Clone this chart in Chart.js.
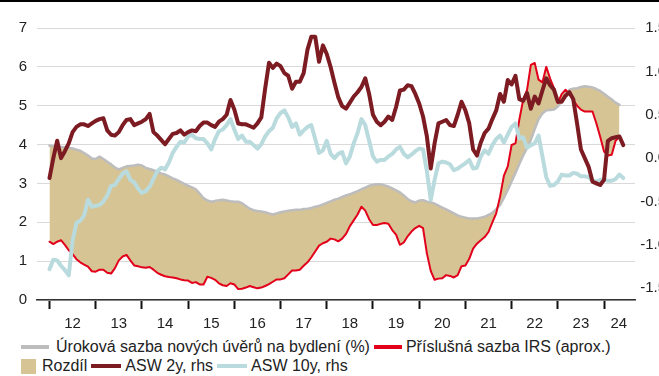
<!DOCTYPE html>
<html>
<head>
<meta charset="utf-8">
<script src="https://cdn.jsdelivr.net/npm/chart.js@4.4.1/dist/chart.umd.min.js"></script>
<style>
  html, body { margin: 0; padding: 0; background: #fff; overflow: hidden; }
  body { width: 659px; height: 376px; position: relative; font-family: "Liberation Sans", Arial, sans-serif; }
  #topline { position: absolute; left: 0; top: 0; width: 659px; height: 2px; background: #000; }
  #wrap { position: absolute; left: 0; top: 0; width: 666px; height: 336px; }
  .legend-row { position: absolute; left: 21px; display: flex; align-items: center; height: 18px;
                font-size: 16px; line-height: 18px; color: #222; white-space: nowrap; }
  .mk { display: inline-block; flex: none; }
</style>
</head>
<body>
<div id="wrap"><canvas id="chart" width="666" height="336"></canvas></div>
<div id="topline"></div>
<div class="legend-row" id="row1" style="top:338px"></div>
<div class="legend-row" id="row2" style="top:357px"></div>

<script>
// monthly series, first value = Jan 2012
const startYear = 2012;
const yearLabels = ['12', '13', '14', '15', '16', '17', '18', '19', '20', '21', '22', '23', '24'];

// Úroková sazba nových úvěrů na bydlení (%)
const mortgageRate = [
    3.97, 3.96, 3.95, 3.94, 3.93, 3.92, 3.90, 3.87, 3.84, 3.78, 3.72, 3.64,
    3.63, 3.69, 3.63, 3.56, 3.49, 3.41, 3.36, 3.40, 3.44, 3.45, 3.46, 3.48,
    3.46, 3.40, 3.37, 3.34, 3.30, 3.26, 3.23, 3.18, 3.13, 3.09, 3.04, 2.99,
    2.94, 2.90, 2.85, 2.74, 2.62, 2.56, 2.53, 2.55, 2.57, 2.58, 2.56, 2.54,
    2.53, 2.53, 2.49, 2.42, 2.35, 2.31, 2.29, 2.28, 2.26, 2.23, 2.20, 2.23,
    2.26, 2.28, 2.30, 2.31, 2.32, 2.32, 2.34, 2.35, 2.37, 2.40, 2.42, 2.46,
    2.50, 2.54, 2.58, 2.61, 2.65, 2.69, 2.72, 2.76, 2.80, 2.85, 2.89, 2.94,
    2.96, 2.98, 2.98, 2.95, 2.92, 2.87, 2.82, 2.77, 2.69, 2.60, 2.54, 2.51,
    2.56, 2.57, 2.53, 2.52, 2.48, 2.43, 2.38, 2.33, 2.28, 2.23, 2.18, 2.14,
    2.12, 2.10, 2.10, 2.10, 2.12, 2.14, 2.19, 2.24, 2.34, 2.45, 2.63, 2.83,
    3.05, 3.27, 3.50, 3.72, 3.91, 4.12, 4.40, 4.65, 4.80, 4.88, 4.89, 4.90,
    4.98, 5.12, 5.28, 5.41, 5.44, 5.45, 5.48, 5.50, 5.49, 5.47, 5.43, 5.38,
    5.31, 5.23, 5.16, 5.08, 5.02
];

// Příslušná sazba IRS (aprox.)
const irsRate = [
    1.50, 1.44, 1.50, 1.54, 1.42, 1.28, 1.18, 1.05, 0.97, 0.91, 0.86, 0.74,
    0.73, 0.78, 0.78, 0.70, 0.68, 0.82, 1.02, 1.12, 1.16, 1.02, 0.89, 0.87,
    0.84, 0.83, 0.85, 0.78, 0.70, 0.65, 0.61, 0.59, 0.58, 0.56, 0.53, 0.51,
    0.50, 0.44, 0.46, 0.40, 0.40, 0.60, 0.57, 0.52, 0.43, 0.38, 0.36, 0.43,
    0.40, 0.28, 0.29, 0.32, 0.36, 0.33, 0.30, 0.32, 0.36, 0.41, 0.47, 0.53,
    0.53, 0.56, 0.66, 0.76, 0.76, 0.78, 0.88, 0.97, 1.10, 1.25, 1.40, 1.46,
    1.50, 1.58, 1.56, 1.51, 1.58, 1.70, 1.90, 2.05, 2.20, 2.40, 2.30, 2.08,
    1.93, 1.93, 1.96, 1.98, 1.96, 1.80, 1.68, 1.42, 1.48, 1.64, 1.76, 1.85,
    1.91, 1.85, 1.20, 0.75, 0.52, 0.55, 0.56, 0.64, 0.62, 0.58, 0.64, 0.87,
    0.89, 1.06, 1.32, 1.45, 1.54, 1.62, 1.75, 2.00, 2.23, 2.66, 3.20, 3.44,
    3.99, 4.03, 4.64, 5.15, 5.40, 6.05, 6.10, 5.67, 5.60, 6.00, 5.70, 5.45,
    5.07, 5.30, 5.41, 5.30, 5.15, 5.00, 4.90, 4.85, 4.85, 4.85, 4.55, 4.20,
    3.82, 3.72, 3.74, 4.10, 4.20
];

// ASW 2y (rhs)
const asw2y = [
    -0.23, 0.00, 0.20, 0.00, 0.08, 0.17, 0.30, 0.36, 0.39, 0.39, 0.37, 0.40,
    0.43, 0.45, 0.46, 0.32, 0.27, 0.26, 0.30, 0.38, 0.44, 0.45, 0.38, 0.40,
    0.42, 0.45, 0.51, 0.30, 0.26, 0.21, 0.16, 0.22, 0.28, 0.29, 0.32, 0.27,
    0.30, 0.32, 0.31, 0.37, 0.41, 0.41, 0.38, 0.36, 0.42, 0.45, 0.50, 0.67,
    0.56, 0.40, 0.39, 0.39, 0.37, 0.35, 0.40, 0.47, 0.80, 1.10, 1.04, 1.09,
    1.06, 0.98, 0.95, 0.80, 0.88, 0.88, 0.98, 1.25, 1.40, 1.40, 1.11, 1.30,
    1.20, 1.05, 0.87, 0.70, 0.60, 0.57, 0.64, 0.71, 0.76, 0.82, 0.92, 0.74,
    0.50, 0.42, 0.38, 0.42, 0.48, 0.44, 0.59, 0.78, 0.79, 0.84, 0.83, 0.74,
    0.63, 0.48, 0.25, -0.12, 0.17, 0.40, 0.42, 0.44, 0.38, 0.37, 0.50, 0.65,
    0.55, 0.40, 0.10, 0.03, 0.18, 0.29, 0.34, 0.45, 0.55, 0.74, 0.65, 0.90,
    0.85, 0.95, 0.68, 0.66, 0.75, 0.57, 0.71, 0.63, 0.78, 0.92, 0.84, 0.79,
    0.65, 0.65, 0.72, 0.76, 0.68, 0.40, 0.10, 0.00, -0.10, -0.27, -0.29, -0.31,
    -0.25, 0.20, 0.23, 0.24, 0.25, 0.15
];

// ASW 10y (rhs)
const asw10y = [
    -1.28, -1.17, -1.18, -1.24, -1.29, -1.35, -0.95, -0.75, -0.72, -0.66, -0.48, -0.56,
    -0.55, -0.54, -0.50, -0.43, -0.32, -0.31, -0.24, -0.18, -0.15, -0.25, -0.28, -0.35,
    -0.40, -0.38, -0.33, -0.24, -0.15, -0.11, -0.13, -0.05, 0.06, 0.13, 0.19, 0.18,
    0.25, 0.27, 0.23, 0.22, 0.22, 0.17, 0.10, 0.22, 0.31, 0.33, 0.38, 0.45,
    0.33, 0.22, 0.26, 0.19, 0.19, 0.15, 0.11, 0.16, 0.25, 0.31, 0.35, 0.46,
    0.52, 0.55, 0.47, 0.36, 0.40, 0.27, 0.32, 0.36, 0.38, 0.22, 0.06, 0.09,
    0.20, 0.05, 0.00, 0.05, 0.07, -0.06, 0.02, 0.17, 0.29, 0.45, 0.38, 0.20,
    0.02, -0.04, -0.02, -0.02, 0.02, 0.05, 0.10, 0.13, 0.05, 0.01, 0.04, 0.08,
    0.11, 0.10, -0.15, -0.48, -0.25, -0.06, -0.04, -0.05, -0.07, -0.14, -0.12, -0.09,
    -0.06, -0.02, -0.12, -0.11, 0.02, 0.09, 0.05, 0.15, 0.22, 0.26, 0.18, 0.27,
    0.36, 0.40, 0.23, 0.24, 0.12, 0.15, 0.17, 0.26, 0.02, -0.22, -0.32, -0.31,
    -0.27, -0.19, -0.20, -0.20, -0.17, -0.18, -0.21, -0.21, -0.22, -0.26, -0.27, -0.25,
    -0.25, -0.26, -0.26, -0.24, -0.19, -0.23
];

const seriesNames = [
    'Úroková sazba nových úvěrů na bydlení (%)',
    'Příslušná sazba IRS (aprox.)',
    'Rozdíl',
    'ASW 2y, rhs',
    'ASW 10y, rhs'
];

const colors = {
    mortgage: '#bdbdbd',
    irs: '#e3001b',
    spread: '#d7c495',
    asw2: '#7c1c22',
    asw10: '#b9dbde'
};

function toPoints(values) {
    return values.map((v, i) => ({ x: startYear + i / 12, y: v }));
}

// tick marks at year starts, labels in the middle of each year
function buildYearTicks() {
    const ticks = [];
    yearLabels.forEach((label, i) => {
        const year = startYear + i;
        ticks.push({ value: year });
        ticks.push({ value: i === yearLabels.length - 1 ? year + 0.32 : year + 0.5 });
    });
    return ticks;
}

function yearLabel(value) {
    if (Number.isInteger(value)) return '';
    return yearLabels[Math.floor(value) - startYear];
}

const lineDefaults = {
    pointRadius: 0,
    pointHoverRadius: 0,
    tension: 0,
    borderJoinStyle: 'round',
    borderCapStyle: 'round'
};

Chart.defaults.font.family = '"Liberation Sans", Arial, sans-serif';
Chart.defaults.font.size = 15;
Chart.defaults.color = '#222';

const ctx = document.getElementById('chart').getContext('2d');
new Chart(ctx, {
    type: 'line',
    data: {
        datasets: [
            {
                ...lineDefaults,
                label: seriesNames[3],
                data: toPoints(asw2y),
                borderColor: colors.asw2,
                borderWidth: 4,
                yAxisID: 'yRight',
                fill: false
            },
            {
                ...lineDefaults,
                label: seriesNames[4],
                data: toPoints(asw10y),
                borderColor: colors.asw10,
                borderWidth: 4,
                yAxisID: 'yRight',
                fill: false
            },
            {
                ...lineDefaults,
                label: seriesNames[1],
                data: toPoints(irsRate),
                borderColor: colors.irs,
                borderWidth: 2,
                yAxisID: 'y',
                fill: { target: 3 },
                backgroundColor: colors.spread
            },
            {
                ...lineDefaults,
                label: seriesNames[0],
                data: toPoints(mortgageRate),
                borderColor: colors.mortgage,
                borderWidth: 2.5,
                yAxisID: 'y',
                fill: false
            }
        ]
    },
    options: {
        responsive: false,
        animation: false,
        devicePixelRatio: 1,
        layout: { padding: { top: 28, left: 0, right: 0, bottom: 0 } },
        plugins: {
            legend: { display: false },
            tooltip: { enabled: false },
            filler: { drawTime: 'beforeDatasetsDraw' }
        },
        scales: {
            x: {
                type: 'linear',
                min: 2011.73,
                max: 2024.67,
                afterBuildTicks: (scale) => { scale.ticks = buildYearTicks(); },
                afterFit: (scale) => { scale.height = 36; },
                ticks: {
                    autoSkip: false,
                    maxRotation: 0,
                    padding: 6,
                    callback: (value) => yearLabel(value)
                },
                grid: {
                    drawOnChartArea: false,
                    drawTicks: true,
                    tickLength: 9,
                    tickWidth: 2,
                    tickColor: (c) => (c.tick && Number.isInteger(c.tick.value)) ? '#111' : 'rgba(0,0,0,0)'
                },
                border: { display: true, color: '#333', width: 1.5 }
            },
            y: {
                position: 'left',
                min: 0,
                max: 7,
                afterFit: (scale) => { scale.width = 37; },
                ticks: { stepSize: 1, padding: 10 },
                grid: { color: '#d9d9d9', lineWidth: 1, drawTicks: false },
                border: { display: false }
            },
            yRight: {
                position: 'right',
                min: -1.635,
                max: 1.5,
                afterBuildTicks: (scale) => {
                    scale.ticks = [-1.5, -1.0, -0.5, 0, 0.5, 1.0, 1.5].map(v => ({ value: v }));
                },
                afterFit: (scale) => { scale.width = 31; },
                ticks: {
                    crossAlign: 'far',
                    callback: (value) => value.toFixed(1)
                },
                grid: { drawOnChartArea: false, drawTicks: false },
                border: { display: false }
            }
        }
    }
});

// legend rows built from the series names
const legendRows = [
    [
        { name: seriesNames[0], color: colors.mortgage, w: 28, h: 4, gap: 7 },
        { name: seriesNames[1], color: colors.irs, w: 28, h: 4, gap: 4 }
    ],
    [
        { name: seriesNames[2], color: colors.spread, w: 15, h: 15, gap: 6 },
        { name: seriesNames[3], color: colors.asw2, w: 30, h: 4, gap: 4 },
        { name: seriesNames[4], color: colors.asw10, w: 30, h: 4, gap: 4 }
    ]
];

legendRows.forEach((items, r) => {
    const row = document.getElementById('row' + (r + 1));
    items.forEach((item, k) => {
        const mk = document.createElement('span');
        mk.className = 'mk';
        mk.style.width = item.w + 'px';
        mk.style.height = item.h + 'px';
        mk.style.background = item.color;
        mk.style.marginRight = item.gap + 'px';
        if (k > 0) mk.style.marginLeft = '4px';
        const txt = document.createElement('span');
        txt.textContent = item.name;
        row.appendChild(mk);
        row.appendChild(txt);
    });
});
</script>
</body>
</html>
